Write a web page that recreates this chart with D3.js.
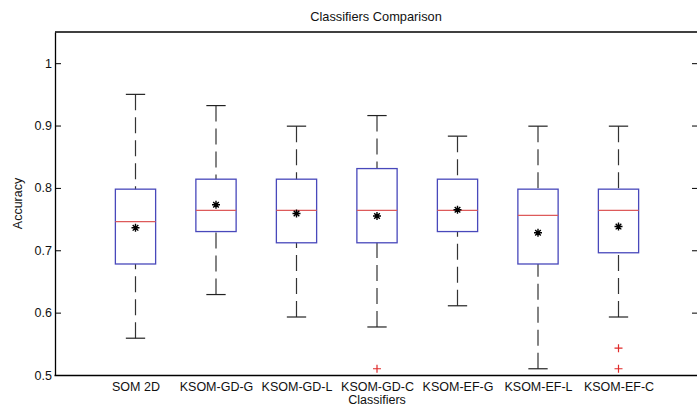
<!DOCTYPE html>
<html>
<head>
<meta charset="utf-8">
<script src="https://d3js.org/d3.v7.min.js"></script>
<style>
body { margin: 0; background: #fff; }
svg text { font-family: "Liberation Sans", Arial, sans-serif; fill: #111; }
</style>
</head>
<body>
<div id="chart"></div>
<script>
/*Data*/
var classifiers = ['SOM 2D','KSOM-GD-G','KSOM-GD-L','KSOM-GD-C','KSOM-EF-G','KSOM-EF-L','KSOM-EF-C'];
var lowerWhisker = [0.559, 0.629, 0.593, 0.577, 0.611, 0.510, 0.593];
var q1Values     = [0.678, 0.730, 0.712, 0.712, 0.730, 0.678, 0.696];
var medianValues = [0.746, 0.764, 0.764, 0.764, 0.764, 0.756, 0.764];
var q3Values     = [0.798, 0.814, 0.814, 0.831, 0.814, 0.798, 0.798];
var upperWhisker = [0.950, 0.932, 0.899, 0.916, 0.883, 0.899, 0.899];
var meanValues   = [0.736, 0.773, 0.759, 0.755, 0.765, 0.728, 0.738];
var outliers     = [[], [], [], [0.510], [], [], [0.543, 0.510]];
var yTicks = [0.5, 0.6, 0.7, 0.8, 0.9, 1];

var canvasWidth = 697;
var canvasHeight = 408;

var svg = d3.select("#chart")
    .append("svg")
    .attr("width", canvasWidth)
    .attr("height", canvasHeight);

/*Plot area edges*/
var plotLeft = 55, plotRight = 699, plotTop = 32, plotBottom = 375;

var xScale = d3.scaleLinear().domain([0, 8]).range([plotLeft, plotRight]);
var yScale = d3.scaleLinear().domain([0.5, 1.05]).range([plotBottom, plotTop]);

var boxHalf = 0.25;
var capHalf = 0.12;

var data = classifiers.map(function(c, i) {
    return {
        name: c, pos: i + 1,
        lo: lowerWhisker[i], q1: q1Values[i], med: medianValues[i],
        q3: q3Values[i], hi: upperWhisker[i], mean: meanValues[i],
        out: outliers[i]
    };
});

/*Frame: top line*/
svg.append("line")
    .attr("x1", plotLeft).attr("x2", plotRight)
    .attr("y1", plotTop).attr("y2", plotTop)
    .attr("stroke", "#000").attr("stroke-width", 1.3);

/*Y axis left*/
svg.append("g")
    .attr("transform", "translate(" + plotLeft + ",0)")
    .call(d3.axisLeft(yScale).tickValues(yTicks).tickFormat(d3.format("")).tickSizeInner(-6).tickSizeOuter(0).tickPadding(3))
    .call(function(g) {
        g.select(".domain").attr("stroke", "#000").attr("stroke-width", 1.3);
        g.selectAll(".tick line").attr("stroke", "#000");
        g.selectAll("text").style("font-size", "12.5px").attr("fill", "#111");
    });

/*Y axis right (ticks only)*/
svg.append("g")
    .attr("transform", "translate(" + plotRight + ",0)")
    .call(d3.axisRight(yScale).tickValues(yTicks).tickFormat("").tickSizeInner(-7).tickSizeOuter(0))
    .call(function(g) {
        g.select(".domain").attr("stroke", "#000").attr("stroke-width", 1.3);
        g.selectAll(".tick line").attr("stroke", "#000");
    });

/*X axis*/
svg.append("g")
    .attr("transform", "translate(0," + plotBottom + ")")
    .call(d3.axisBottom(xScale).tickValues(d3.range(1, classifiers.length + 1))
        .tickFormat(function(d) { return classifiers[d - 1]; })
        .tickSize(0).tickPadding(7))
    .call(function(g) {
        g.select(".domain").attr("stroke", "#000").attr("stroke-width", 1.3)
            .attr("d", "M" + (plotLeft - 0.5) + ",0.5H" + plotRight);
        g.selectAll("text").style("font-size", "12.5px").attr("fill", "#111");
    });

/*Titles*/
svg.append("text")
    .attr("x", 376).attr("y", 21)
    .attr("text-anchor", "middle")
    .style("font-size", "12.8px")
    .text("Classifiers Comparison");

svg.append("text")
    .attr("x", 377).attr("y", 404)
    .attr("text-anchor", "middle")
    .style("font-size", "12.5px")
    .text("Classifiers");

svg.append("text")
    .attr("transform", "translate(22," + ((plotTop + plotBottom) / 2) + ") rotate(-90)")
    .attr("text-anchor", "middle")
    .style("font-size", "12.5px")
    .text("Accuracy");

var boxes = svg.append("g").selectAll(".box")
    .data(data)
    .enter()
    .append("g")
    .attr("class", "box");

/*Whiskers (dashed, drawn from the cap toward the box)*/
boxes.append("line")
    .attr("x1", function(d) { return xScale(d.pos); })
    .attr("x2", function(d) { return xScale(d.pos); })
    .attr("y1", function(d) { return yScale(d.hi); })
    .attr("y2", function(d) { return yScale(d.q3); })
    .attr("stroke", "#333").attr("stroke-width", 1.2)
    .attr("stroke-dasharray", "16,7");

boxes.append("line")
    .attr("x1", function(d) { return xScale(d.pos); })
    .attr("x2", function(d) { return xScale(d.pos); })
    .attr("y1", function(d) { return yScale(d.lo); })
    .attr("y2", function(d) { return yScale(d.q1); })
    .attr("stroke", "#333").attr("stroke-width", 1.2)
    .attr("stroke-dasharray", "16,7");

/*Caps*/
["hi", "lo"].forEach(function(k) {
    boxes.append("line")
        .attr("x1", function(d) { return xScale(d.pos - capHalf); })
        .attr("x2", function(d) { return xScale(d.pos + capHalf); })
        .attr("y1", function(d) { return yScale(d[k]); })
        .attr("y2", function(d) { return yScale(d[k]); })
        .attr("stroke", "#222").attr("stroke-width", 1.2);
});

/*Boxes*/
boxes.append("rect")
    .attr("x", function(d) { return xScale(d.pos - boxHalf); })
    .attr("width", function(d) { return xScale(d.pos + boxHalf) - xScale(d.pos - boxHalf); })
    .attr("y", function(d) { return yScale(d.q3); })
    .attr("height", function(d) { return yScale(d.q1) - yScale(d.q3); })
    .attr("fill", "none")
    .attr("stroke", "#4848bb").attr("stroke-width", 1.3);

/*Medians*/
boxes.append("line")
    .attr("x1", function(d) { return xScale(d.pos - boxHalf); })
    .attr("x2", function(d) { return xScale(d.pos + boxHalf); })
    .attr("y1", function(d) { return yScale(d.med); })
    .attr("y2", function(d) { return yScale(d.med); })
    .attr("stroke", "#dd5a5a").attr("stroke-width", 1.4);

/*Mean star markers*/
var star = "M-4,0H4M0,-4V4M-2.8,-2.8L2.8,2.8M-2.8,2.8L2.8,-2.8";
boxes.append("path")
    .attr("transform", function(d) { return "translate(" + xScale(d.pos) + "," + yScale(d.mean) + ")"; })
    .attr("d", star)
    .attr("stroke", "#000").attr("stroke-width", 1.4)
    .attr("fill", "none");

/*Outliers*/
var outData = [];
data.forEach(function(d) {
    d.out.forEach(function(v) { outData.push({pos: d.pos, v: v}); });
});

svg.append("g").selectAll(".outlier")
    .data(outData)
    .enter()
    .append("path")
    .attr("class", "outlier")
    .attr("transform", function(d) { return "translate(" + xScale(d.pos) + "," + yScale(d.v) + ")"; })
    .attr("d", "M-4,0H4M0,-4V4")
    .attr("stroke", "#e02a2a").attr("stroke-width", 1.2)
    .attr("fill", "none");
</script>
</body>
</html>
